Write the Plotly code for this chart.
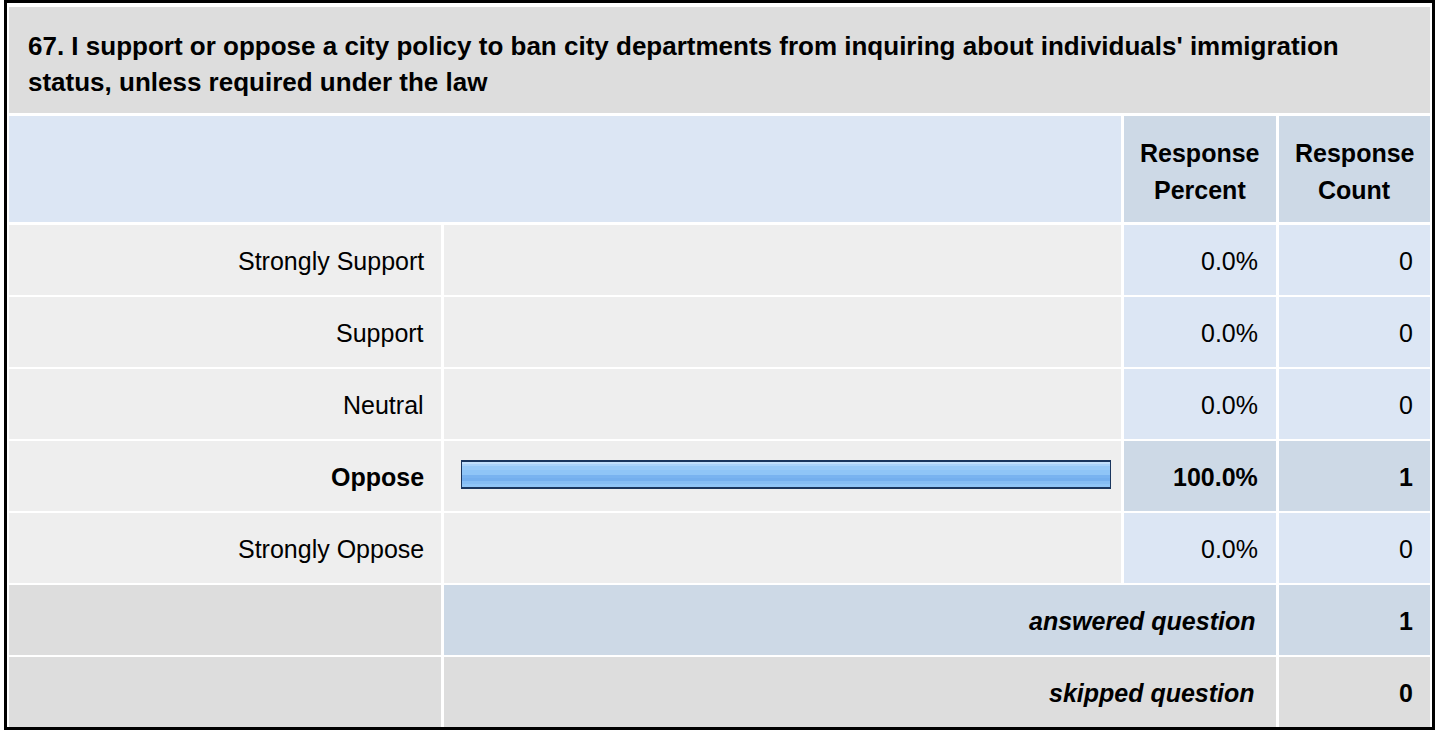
import plotly.graph_objects as go

# ---------------- data ----------------
title_lines = [
    "67. I support or oppose a city policy to ban city departments from inquiring about individuals' immigration",
    "status, unless required under the law",
]
answer_choices = ["Strongly Support", "Support", "Neutral", "Oppose", "Strongly Oppose"]
response_percent = [0.0, 0.0, 0.0, 100.0, 0.0]
response_count = [0, 0, 0, 1, 0]
header_percent = ["Response", "Percent"]
header_count = ["Response", "Count"]
summary_labels = ["answered question", "skipped question"]
summary_values = [1, 0]

# ---------------- layout helpers ----------------
W, H = 1437, 730
FONT = "Liberation Sans, Arial, sans-serif"
GRAY = "#DDDDDD"
ROWGRAY = "#EEEEEE"
LBLUE = "#DCE6F4"
DBLUE = "#CDD9E6"


def fx(x):
    return x / W


def fy(y):
    return 1 - y / H


shapes = []


def rect(x0, y0, x1, y1, color):
    shapes.append(dict(type="rect", xref="paper", yref="paper",
                       x0=fx(x0), x1=fx(x1), y0=fy(y1), y1=fy(y0),
                       fillcolor=color, line=dict(width=0), layer="below"))


annotations = []


def text(x, y, s, size=25, bold=False, italic=False, anchor="right"):
    if bold:
        s = "<b>" + s + "</b>"
    if italic:
        s = "<i>" + s + "</i>"
    annotations.append(dict(x=fx(x), y=fy(y), xref="paper", yref="paper",
                            text=s, showarrow=False, xanchor=anchor,
                            yanchor="middle",
                            font=dict(family=FONT, size=size, color="#000000")))


# column geometry (pixels)
LBL = (9, 441)
BAR = (444, 1121)
PCT = (1124, 1276)
CNT = (1279, 1430)
ROW_TOP0 = 225
PITCH = 72
ROW_H = 70

# title
rect(9, 7, 1430, 113, GRAY)
text(26, 46, title_lines[0], size=26, bold=True, anchor="left")
text(26, 82, title_lines[1], size=26, bold=True, anchor="left")

# header
rect(9, 116, 1121, 222, LBLUE)
rect(PCT[0], 116, PCT[1], 222, DBLUE)
rect(CNT[0], 116, CNT[1], 222, DBLUE)
pc = (PCT[0] + PCT[1]) / 2
cc = (CNT[0] + CNT[1]) / 2
text(pc, 153, header_percent[0], bold=True, anchor="center")
text(pc, 190, header_percent[1], bold=True, anchor="center")
text(cc, 153, header_count[0], bold=True, anchor="center")
text(cc, 190, header_count[1], bold=True, anchor="center")

# data rows
max_count = max(response_count)
for i, (lab, p, c) in enumerate(zip(answer_choices, response_percent, response_count)):
    top = ROW_TOP0 + PITCH * i
    bot = top + ROW_H
    is_max = (c == max_count and c > 0)
    rect(LBL[0], top, LBL[1], bot, ROWGRAY)
    rect(BAR[0], top, BAR[1], bot, ROWGRAY)
    rect(PCT[0], top, PCT[1], bot, DBLUE if is_max else LBLUE)
    rect(CNT[0], top, CNT[1], bot, DBLUE if is_max else LBLUE)
    yc = top + 36
    text(426, yc, lab, bold=is_max)
    text(1260, yc, f"{p:.1f}%", bold=is_max)
    text(1415, yc, f"{c}", bold=is_max)

# summary rows
sum_colors = [(GRAY, DBLUE, DBLUE), (GRAY, GRAY, GRAY)]
for j, (lab, v) in enumerate(zip(summary_labels, summary_values)):
    top = ROW_TOP0 + PITCH * (len(answer_choices) + j)
    bot = top + ROW_H
    cl, cm, cr = sum_colors[j]
    rect(LBL[0], top, LBL[1], bot, cl)
    rect(BAR[0], top, PCT[1], bot, cm)
    rect(CNT[0], top, CNT[1], bot, cr)
    yc = top + 36
    text(1257, yc, lab, bold=True, italic=True)
    text(1415, yc, f"{v}", bold=True)

# outer border
shapes.append(dict(type="rect", xref="paper", yref="paper",
                   x0=fx(5.5), x1=fx(1433.5), y0=fy(728.5), y1=fy(1.5),
                   line=dict(color="#000000", width=3), fillcolor="rgba(0,0,0,0)",
                   layer="above"))

# ---------------- bars (gradient stripes + outline) ----------------
fig = go.Figure()
# stripes relative to row centre, in pixels (top, bottom, colour)
stripes = [(-15, -12, "#C2E0FC"), (-12, -10, "#AAD3FA"), (-10, -6, "#98CAF8"),
           (-6, -1, "#8FC5F7"), (-1, 2, "#79B3F0"), (2, 5, "#74AFEE"),
           (5, 8, "#85BDF4"), (8, 12, "#8FC5F7")]
for t, b, col in stripes:
    fig.add_trace(go.Bar(
        x=response_percent, y=answer_choices, orientation="h",
        offset=t / PITCH, width=(b - t) / PITCH,
        marker=dict(color=col, line=dict(width=0)),
        hoverinfo="skip", showlegend=False))
fig.add_trace(go.Bar(
    x=[p if p > 0 else None for p in response_percent], y=answer_choices,
    orientation="h", offset=-15 / PITCH, width=27 / PITCH,
    marker=dict(color="rgba(0,0,0,0)", line=dict(color="#1A365E", width=2)),
    hoverinfo="skip", showlegend=False))

n = len(answer_choices)
fig.update_layout(
    width=W, height=H,
    margin=dict(l=0, r=0, t=0, b=0),
    paper_bgcolor="#FFFFFF", plot_bgcolor="rgba(0,0,0,0)",
    barmode="overlay",
    xaxis=dict(domain=[fx(461), fx(1111)], range=[0, 100], visible=False,
               fixedrange=True),
    yaxis=dict(domain=[fy(ROW_TOP0 - 1 + PITCH * n), fy(ROW_TOP0 - 1)],
               type="category", categoryorder="array", categoryarray=answer_choices,
               range=[n - 0.5, -0.5], visible=False, fixedrange=True),
    shapes=shapes,
    annotations=annotations,
    showlegend=False,
)

fig.write_html("out.html",
               config={"displayModeBar": False},
               post_script="document.body.style.margin='0';document.body.style.overflow='hidden';")
